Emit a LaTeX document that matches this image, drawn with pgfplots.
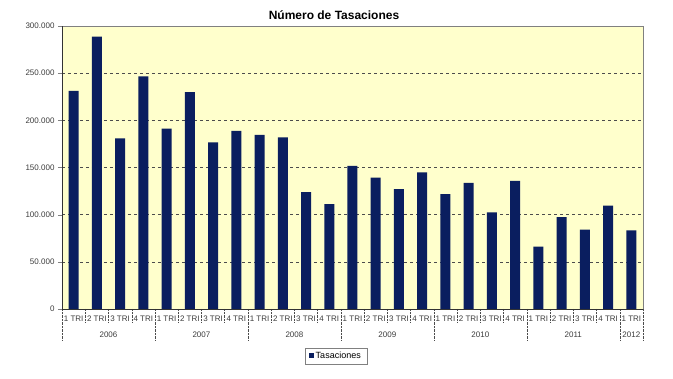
\documentclass[border=0pt]{standalone}
\usepackage{pgfplots}
\pgfplotsset{compat=1.18}
\usepackage{fontspec}
\setmainfont{Liberation Sans}
\definecolor{barblue}{RGB}{10,30,95}
\definecolor{bgyellow}{RGB}{255,255,204}
\definecolor{txtgray}{RGB}{60,60,60}
\begin{document}
\begin{tikzpicture}[x=1pt,y=1pt]
\begin{axis}[
  at={(0,0)}, anchor=south west,
  scale only axis,
  width=581pt, height=283pt,
  ybar, bar width=10pt,
  xmin=-0.5, xmax=24.5,
  ymin=0, ymax=300000,
  axis background/.style={fill=bgyellow},
  axis line style={draw=gray},
  ytick={0,50000,...,300000},
  ymajorgrids,
  major grid style={dashed, black!70, line width=0.5pt},
  scaled y ticks=false,
  yticklabel style={font=\fontsize{8}{9}\selectfont, text=txtgray},
  /pgf/number format/.cd, fixed, precision=0, 1000 sep={.}, assume math mode=true,
  /pgfplots/.cd,
  tick pos=left,
  tick align=outside,
  major tick length=4pt,
  xtick={0,...,24},
  xticklabels={1 TRI,2 TRI,3 TRI,4 TRI,1 TRI,2 TRI,3 TRI,4 TRI,1 TRI,2 TRI,3 TRI,4 TRI,1 TRI,2 TRI,3 TRI,4 TRI,1 TRI,2 TRI,3 TRI,4 TRI,1 TRI,2 TRI,3 TRI,4 TRI,1 TRI},
  x tick style={draw=none},
  xticklabel style={font=\fontsize{8}{9}\selectfont, text=txtgray, yshift=1pt},
  legend style={at={(0.4716,-0.166)}, anchor=center, draw=gray, fill=white,
    font=\fontsize{9}{10}\selectfont, inner xsep=4pt, inner ysep=2pt},
  legend image code/.code={\fill[barblue] (0pt,-2pt) rectangle (4.5pt,2.5pt);},
  clip=false,
]
\addplot[fill=barblue, draw=none] coordinates {
(0,231100) (1,288700) (2,181000) (3,246700) (4,191200) (5,230000) (6,176700) (7,188700)
(8,184500) (9,182000) (10,124000) (11,111300) (12,151600) (13,139200) (14,127200) (15,144900)
(16,121900) (17,133600) (18,102500) (19,135700) (20,66000) (21,97500) (22,84100) (23,109500)
(24,83400)};
\addlegendentry{Tasaciones}
\pgfplotsinvokeforeach{0.5,1.5,2.5,4.5,5.5,6.5,8.5,9.5,10.5,12.5,13.5,14.5,16.5,17.5,18.5,20.5,21.5,22.5}{
  \draw[black!70, densely dotted] (axis cs:#1,0) -- ([yshift=-13pt]axis cs:#1,0);
}
\pgfplotsinvokeforeach{-0.5,3.5,7.5,11.5,15.5,19.5,23.5,24.5}{
  \draw[black!70, densely dotted] (axis cs:#1,0) -- ([yshift=-31pt]axis cs:#1,0);
}
\draw[black!80] (axis cs:-0.5,0) -- (axis cs:-0.5,300000);
\draw[black!80] (axis cs:-0.5,0) -- (axis cs:24.5,0);
\node[font=\fontsize{8}{9}\selectfont, text=txtgray] at ([yshift=-26pt]axis cs:1.5,0) {2006};
\node[font=\fontsize{8}{9}\selectfont, text=txtgray] at ([yshift=-26pt]axis cs:5.5,0) {2007};
\node[font=\fontsize{8}{9}\selectfont, text=txtgray] at ([yshift=-26pt]axis cs:9.5,0) {2008};
\node[font=\fontsize{8}{9}\selectfont, text=txtgray] at ([yshift=-26pt]axis cs:13.5,0) {2009};
\node[font=\fontsize{8}{9}\selectfont, text=txtgray] at ([yshift=-26pt]axis cs:17.5,0) {2010};
\node[font=\fontsize{8}{9}\selectfont, text=txtgray] at ([yshift=-26pt]axis cs:21.5,0) {2011};
\node[font=\fontsize{8}{9}\selectfont, text=txtgray] at ([yshift=-26pt]axis cs:24,0) {2012};
\end{axis}
\node[font=\bfseries\fontsize{12}{13}\selectfont] at (272,294) {Número de Tasaciones};
\useasboundingbox (-62,-70) rectangle (611,309);
\end{tikzpicture}
\end{document}
